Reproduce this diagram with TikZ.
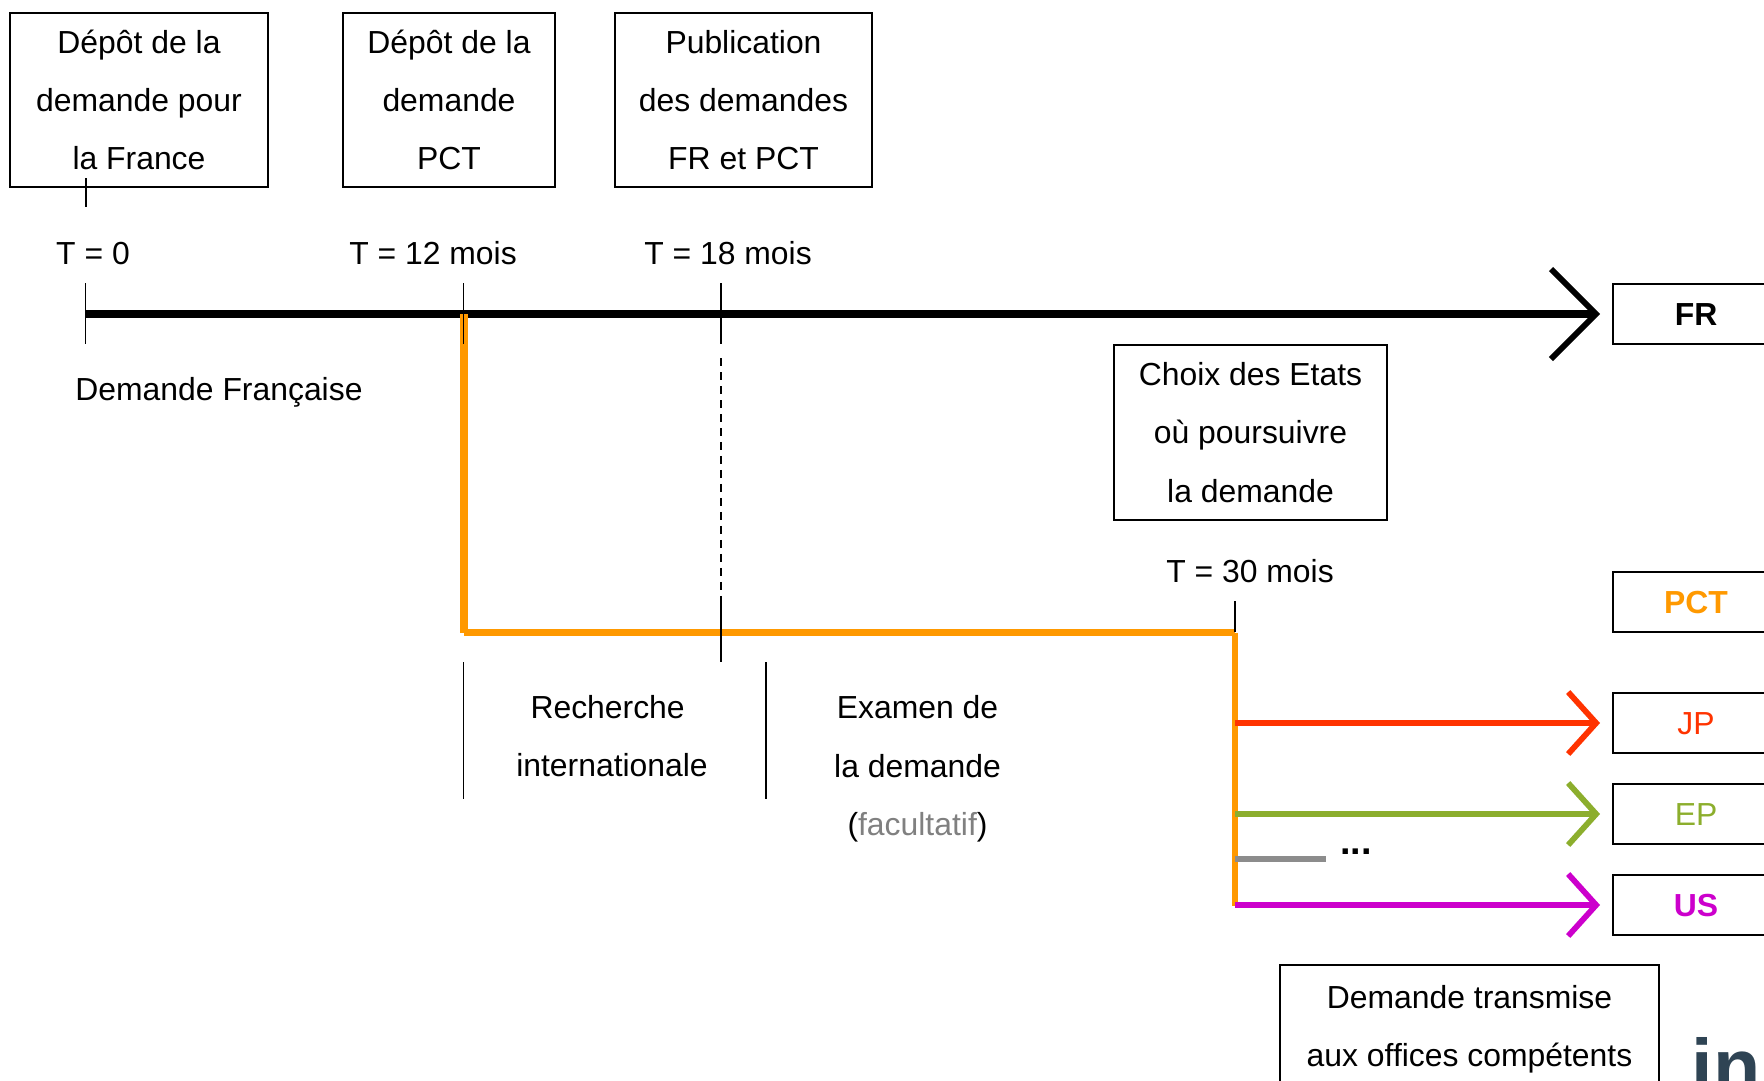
\documentclass[tikz,border=0pt]{standalone}
\usepackage{fontspec}
\setmainfont{Liberation Sans}
\usetikzlibrary{arrows.meta}
\definecolor{pctorange}{HTML}{FF9900}
\definecolor{jpred}{HTML}{FF3300}
\definecolor{epgreen}{HTML}{8CAE2D}
\definecolor{usmagenta}{HTML}{CC00CC}
\definecolor{othergray}{HTML}{8C8C8C}
\definecolor{logoblue}{HTML}{2F4454}
\tikzset{
  txt/.style={font=\fontsize{18.15}{32.8}\selectfont,align=center,inner sep=0pt,outer sep=0pt},
  boxed/.style={txt,draw,line width=0.04cm},
  office/.style={boxed,minimum width=3.32cm,minimum height=1.2cm,text height=0.46cm,text depth=0pt},
  boldoffice/.style={office,font=\fontsize{18.15}{32.8}\selectfont\bfseries},
  tick/.style={line width=0.028cm},
  barb/.style={-{Straight Barb[length=0.56cm,width=1.24cm,line width=0.115cm]},line width=0.125cm,shorten >=0.26cm}
}
\begin{document}
\begin{tikzpicture}[x=0.02cm,y=-0.02cm]
%\draw[help lines] (0,0) grid (1764,1080);
\useasboundingbox (0,0) rectangle (1764,1080);

\node[boxed,minimum width=5.16cm,minimum height=3.5cm] (depotfr) at (139,100) {Dépôt de la\\demande pour\\la France};
\node[boxed,minimum width=4.24cm,minimum height=3.5cm] (depotpct) at (449,100) {Dépôt de la\\demande\\PCT};
\node[boxed,minimum width=5.14cm,minimum height=3.5cm] (publi) at (743.5,100) {Publication\\des demandes\\FR et PCT};
\node[boxed,minimum width=5.46cm,minimum height=3.5cm] (choix) at (1250.5,432.5) {Choix des Etats\\[0.2pt]où poursuivre\\[0.8pt]la demande};
\node[boxed,minimum width=7.58cm,minimum height=2.6cm] (transmise) at (1469.5,1029.5) {Demande transmise\\aux offices compétents};

\node[txt] (t0) at (93,253.5) {T = 0};
\node[txt] (t12) at (433,253.5) {T = 12 mois};
\node[txt] (t18) at (728,253.5) {T = 18 mois};
\node[txt] (t30) at (1250,571) {T = 30 mois};
\node[txt] (frlabel) at (219,392.5) {Demande Française};
\node[txt] (recherche) at (612,736) {Recherche\hspace*{5pt}\\internationale};
\node[txt] (examen) at (917.5,769) {Examen de\\[0.4pt]la demande\\[0.4pt]({\color{gray}facultatif})};

\node[boldoffice] (fr) at (1696,314) {FR};
\node[boldoffice,text=pctorange] (pct) at (1696,602) {PCT};
\node[office,text=jpred] (jp) at (1696,723) {JP};
\node[office,text=epgreen] (ep) at (1696,814) {EP};
\node[boldoffice,text=usmagenta] (us) at (1696,905) {US};
\node[txt,font=\fontsize{21.5}{32}\selectfont\bfseries,anchor=base] (dots) at (1356,854) {...};
\node[txt,font=\fontsize{44}{44}\selectfont\bfseries,text=logoblue,anchor=base west] (logo) at (1691.5,1093) {in};

\coordinate (a0) at (85.7,314);
\coordinate (a12) at (463.7,314);
\coordinate (a12low) at (463.7,632.5);
\coordinate (a30) at (1235,632.5);
\coordinate (a30low) at (1235,906);
\coordinate (sjp) at (1235,723);
\coordinate (sep) at (1235,814);
\coordinate (sother) at (1235,858.5);
\coordinate (sotherend) at (1326,858.5);
\coordinate (sus) at (1235,905);

% Demande francaise
\draw[-{Straight Barb[length=0.9cm,width=1.8cm,line width=0.115cm]},line width=0.17cm,shorten >=0.26cm] (a0) -- (fr.west);

% PCT
\draw[line width=0.155cm,pctorange] (a12) -- (a12low);
\draw[line width=0.155cm,pctorange] (a12low) -- (a30);
\draw[line width=0.12cm,pctorange] (a30) -- (a30low);

\draw[barb,jpred] (sjp) -- (jp.west);
\draw[barb,epgreen] (sep) -- (ep.west);
\draw[barb,usmagenta] (sus) -- (us.west);
\draw[line width=0.12cm,othergray] (sother) -- (sotherend);

% ticks
\draw[line width=0.04cm] (85.7,178) -- (85.7,207);
\draw[tick] (85.7,283) -- (85.7,344);
\draw[tick] (463.7,283) -- (463.7,344);
\draw[tick] (721,283) -- (721,344);
\draw[tick,dash pattern=on 0.16cm off 0.12cm] (721,358) -- (721,597);
\draw[tick] (721,597) -- (721,662);
\draw[tick] (463.7,662) -- (463.7,799);
\draw[tick] (766,662) -- (766,799);
\draw[tick] (1235,601) -- (1235,632);
\end{tikzpicture}
\end{document}
